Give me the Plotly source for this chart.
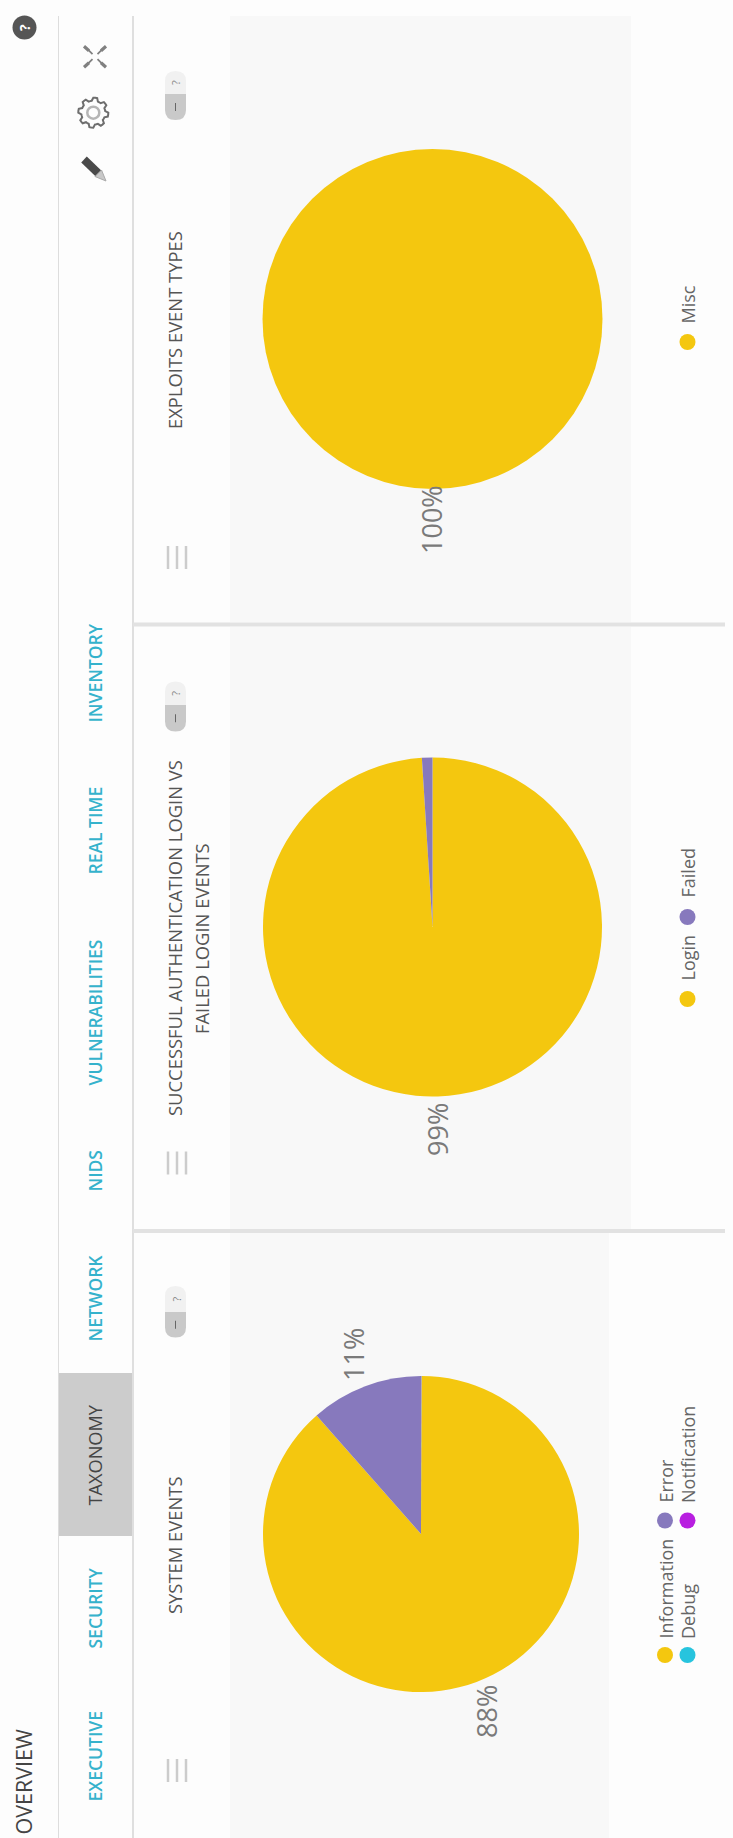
import math
import plotly.graph_objects as go

W, H = 733, 1838
FONT = "Open Sans"
YELLOW, PURPLE, CYAN, MAGENTA = "#F4C70F", "#8779BD", "#27C4DE", "#B81FE0"

# Series shown in the three dashboard panels
system_labels = ["Information", "Error", "Debug", "Notification"]
system_values = [88.46, 11.49, 0.03, 0.02]
system_colors = [YELLOW, PURPLE, CYAN, MAGENTA]

login_labels = ["Login", "Failed"]
login_values = [99, 1]
login_colors = [YELLOW, PURPLE]

exploit_labels = ["Misc"]
exploit_values = [100]
exploit_colors = [YELLOW]

# Navigation labels and their centres along the rotated tab bar
tab_labels = ["EXECUTIVE", "SECURITY", "TAXONOMY", "NETWORK", "NIDS",
              "VULNERABILITIES", "REAL TIME", "INVENTORY"]
tab_centers = [1757, 1608, 1455, 1298, 1171, 1013, 831, 673]

fig = go.Figure()
shapes = []
annotations = []


def rect(x0, y0, x1, y1, fill):
    shapes.append(dict(type="rect", xref="x", yref="y", x0=x0, y0=y0, x1=x1, y1=y1,
                       fillcolor=fill, line_width=0, layer="below"))


def stroke(path, color, width=1.5, fill=None):
    shapes.append(dict(type="path", xref="x", yref="y", path=path, layer="below",
                       line=dict(color=color, width=width),
                       fillcolor=fill if fill else "rgba(0,0,0,0)"))


def vtext(text, x, y, size, color, yanchor="middle", weight="normal"):
    annotations.append(dict(text=text, x=x, y=y, xref="x", yref="y", textangle=-90,
                            showarrow=False, xanchor="center", yanchor=yanchor,
                            font=dict(family=FONT, size=size, color=color, weight=weight)))


def add_pie(labels, values, colors, cx, cy, r, rotation=0):
    fig.add_trace(go.Pie(labels=labels, values=values, sort=False, direction="clockwise",
                         rotation=rotation, textinfo="none", hoverinfo="label+percent",
                         showlegend=False,
                         marker=dict(colors=colors, line=dict(width=0)),
                         domain=dict(x=[(cx - r) / W, (cx + r) / W],
                                     y=[1 - (cy + r) / H, 1 - (cy - r) / H])))


def add_legend_dots(colors, xs, ys):
    fig.add_trace(go.Scatter(x=xs, y=ys, mode="markers", showlegend=False, hoverinfo="skip",
                             marker=dict(color=colors, size=16, line_width=0)))


# Page, panels and dividers
rect(0, 0, W, H, "#FDFDFD")
rect(230, 16, 631, 622, "#F8F8F8")
rect(230, 627, 631, 1229, "#F8F8F8")
rect(230, 1233, 609, H, "#F8F8F8")
rect(58, 1373, 133, 1536, "#CCCCCC")
rect(58, 16, 59, H, "#DDDDDD")
rect(132, 16, 134, H, "#DFDFDF")
rect(133, 622.5, 725, 626.5, "#E2E2E2")
rect(133, 1229, 725, 1233, "#E2E2E2")

# Pies
add_pie(system_labels, system_values, system_colors, 421, 1534, 158, rotation=0.18)
add_pie(login_labels, login_values, login_colors, 432.5, 927, 169.5)
add_pie(exploit_labels, exploit_values, exploit_colors, 432.5, 319, 170)

# Heading and tabs
vtext("OVERVIEW", 22.5, 1782, 21.5, "#444444")
for label, center in zip(tab_labels, tab_centers):
    if label == "TAXONOMY":
        vtext(label, 94.5, center, 18.2, "#444444")
    else:
        vtext(label, 94.5, center, 17.5, "#35B2CC", weight=600)

# Panel titles
TITLE = "#555555"
vtext("SYSTEM EVENTS", 174, 1545, 18.4, TITLE)
vtext("SUCCESSFUL AUTHENTICATION LOGIN VS", 174, 938, 18.4, TITLE)
vtext("FAILED LOGIN EVENTS", 201, 939, 18.4, TITLE)
vtext("EXPLOITS EVENT TYPES", 174, 330, 18.4, TITLE)

# Percentage labels
PCT = "#7A7A7A"
vtext(f"{round(system_values[0])}%", 486, 1712, 27, PCT)
vtext(f"{round(system_values[1])}%", 353, 1355, 27, PCT)
vtext(f"{round(login_values[0])}%", 437, 1130, 27, PCT)
vtext(f"{round(exploit_values[0])}%", 431, 520, 27, PCT)

# Legends
add_legend_dots(system_colors, [665, 665, 687.5, 687.5], [1655, 1520.5, 1655, 1520.5])
add_legend_dots(login_colors, [687.5, 687.5], [999, 917])
add_legend_dots(exploit_colors, [687.5], [342])
LEG = "#666666"
vtext(system_labels[0], 665.5, 1641, 18, LEG, "bottom")
vtext(system_labels[1], 665.5, 1505, 18, LEG, "bottom")
vtext(system_labels[2], 687.5, 1641, 18, LEG, "bottom")
vtext(system_labels[3], 687.5, 1505, 18, LEG, "bottom")
vtext(login_labels[0], 687.5, 983, 18, LEG, "bottom")
vtext(login_labels[1], 687.5, 900, 18, LEG, "bottom")
vtext(exploit_labels[0], 687.5, 326, 18, LEG, "bottom")

# Panel controls: drag handle and collapse/help capsule
for handle_y, top, split, bottom in [(1770.5, 1286, 1312, 1337.5),
                                     (1163, 681.5, 705, 731.5),
                                     (557.5, 71, 94, 120)]:
    for lx in (168, 177, 186):
        stroke(f"M{lx},{handle_y - 11.5} L{lx},{handle_y + 11.5}", "#CCCCCC", 2.5)
    rx = 10.5
    mx = 175.5
    stroke(f"M{mx - rx},{split} L{mx - rx},{top + 10} Q{mx - rx},{top} {mx},{top} "
           f"Q{mx + rx},{top} {mx + rx},{top + 10} L{mx + rx},{split} Z",
           "rgba(0,0,0,0)", 0, "#F1F1F1")
    stroke(f"M{mx - rx},{split} L{mx - rx},{bottom - 10} Q{mx - rx},{bottom} {mx},{bottom} "
           f"Q{mx + rx},{bottom} {mx + rx},{bottom - 10} L{mx + rx},{split} Z",
           "rgba(0,0,0,0)", 0, "#C9C9C9")
    stroke(f"M{mx},{(split + bottom) / 2 - 4} L{mx},{(split + bottom) / 2 + 4}", "#666666", 1)
    vtext("?", mx, (top + split) / 2, 11, "#888888")

# Help badge
shapes.append(dict(type="circle", xref="x", yref="y", x0=12.5, y0=15.5, x1=36.5, y1=39.5,
                   fillcolor="#555555", line_width=0, layer="below"))
vtext("?", 24.5, 27.5, 14, "#FFFFFF", weight=700)

# Expand icon: four diagonal arms around a small central gap
ICON = "#808080"
ex, ey = 95, 56.7
for sx, sy in [(-1, -1), (1, -1), (-1, 1), (1, 1)]:
    stroke(f"M{ex + sx * 11},{ey + sy * 10.5} L{ex + sx * 6},{ey + sy * 6}", ICON, 3.2)
    stroke(f"M{ex + sx * 7},{ey + sy * 7} L{ex + sx * 2.5},{ey + sy * 2.5}", ICON, 1.8)

# Settings gear outline
gx, gy = 93.3, 112.7
points = []
for i in range(48):
    phase = (i % 6) / 6
    radius = 15 if phase < 0.5 else 12
    a = 2 * math.pi * i / 48
    points.append(f"{gx + radius * math.cos(a):.1f},{gy + radius * math.sin(a):.1f}")
stroke("M" + " L".join(points) + " Z", "#6E6E6E", 2)
shapes.append(dict(type="circle", xref="x", yref="y", x0=gx - 6, y0=gy - 6, x1=gx + 6, y1=gy + 6,
                   line=dict(color="#B5B5B5", width=2.5), layer="below"))

# Edit pencil
stroke("M84,159.5 L98.5,173.5", "#4A4A4A", 8)
stroke("M95,176.5 L101.5,170 L106,181 Z", "#AAAAAA", 1, "#C8C8C8")

fig.update_layout(
    width=W, height=H, autosize=False,
    margin=dict(l=0, r=0, t=0, b=0),
    paper_bgcolor="#FDFDFD", plot_bgcolor="rgba(0,0,0,0)",
    xaxis=dict(range=[0, W], visible=False, fixedrange=True),
    yaxis=dict(range=[H, 0], visible=False, fixedrange=True),
    shapes=shapes, annotations=annotations,
    font=dict(family=FONT),
)

fig.write_html("out.html", config=dict(displayModeBar=False))
